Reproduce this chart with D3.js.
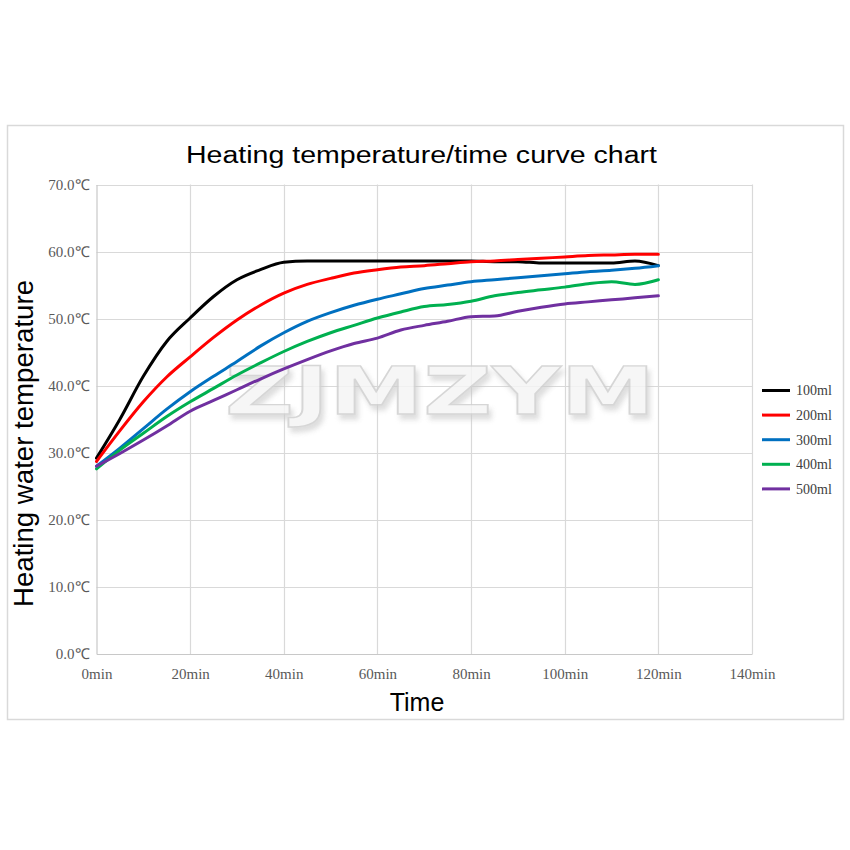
<!DOCTYPE html>
<html>
<head>
<meta charset="utf-8">
<script src="https://cdn.jsdelivr.net/npm/d3@7/dist/d3.min.js"></script>
<style>
  html, body { margin: 0; padding: 0; background: #ffffff; }
  svg { display: block; }
</style>
</head>
<body>
<svg id="chart" width="850" height="850"></svg>
<script>
// ---------- data ----------
const titleText = "Heating temperature/time curve chart";
const xTitle = "Time";
const yTitle = "Heating water temperature";
const watermarkText = "ZJMZYM";

const timesMin = [0,5,10,15,20,25,30,35,40,45,50,55,60,65,70,75,80,85,90,95,100,105,110,115,120];

const seriesNames = ["100ml","200ml","300ml","400ml","500ml"];
const seriesColors = ["#000000","#ff0000","#0070c0","#00b050","#7030a0"];

const temp100 = [29.2,35.0,41.4,46.6,50.1,53.3,55.8,57.3,58.4,58.6,58.6,58.6,58.6,58.6,58.6,58.6,58.6,58.5,58.5,58.3,58.3,58.3,58.3,58.6,57.9];
const temp200 = [28.7,33.3,37.6,41.3,44.3,47.2,49.8,52.0,53.8,55.1,56.0,56.8,57.3,57.7,57.9,58.2,58.5,58.6,58.8,59.0,59.2,59.4,59.5,59.6,59.6];
const temp300 = [28.0,30.7,33.6,36.5,39.1,41.4,43.6,45.9,47.9,49.6,50.9,52.0,52.9,53.7,54.5,55.0,55.5,55.8,56.1,56.4,56.7,57.0,57.2,57.5,57.9];
const temp400 = [27.6,30.4,32.9,35.4,37.6,39.6,41.6,43.4,45.1,46.6,47.9,49.0,50.1,51.0,51.8,52.1,52.6,53.4,53.9,54.3,54.7,55.2,55.5,55.1,55.8];
const temp500 = [28.0,29.9,31.9,34.0,36.2,37.8,39.4,41.0,42.5,43.9,45.2,46.3,47.1,48.3,49.0,49.6,50.3,50.4,51.1,51.7,52.2,52.5,52.8,53.1,53.4];

const xTicks = [0,20,40,60,80,100,120,140];
const yTicks = [0,10,20,30,40,50,60,70];

// ---------- layout ----------
const svg = d3.select("#chart");
const plotL = 96.5, plotR = 752, plotT = 184.5, plotB = 654;

const x = d3.scaleLinear().domain([0,140]).range([plotL, plotR]);
const y = d3.scaleLinear().domain([0,70]).range([plotB, plotT]);

// outer frame
svg.append("rect")
  .attr("x", 7.5).attr("y", 125.5).attr("width", 836).attr("height", 594)
  .attr("fill", "#ffffff").attr("stroke", "#d9d9d9").attr("stroke-width", 1.5);

// gridlines
const grid = svg.append("g");
grid.selectAll("line.h").data(yTicks.slice(1)).join("line")
  .attr("x1", plotL).attr("x2", plotR)
  .attr("y1", d => Math.round(y(d)) + 0.5).attr("y2", d => Math.round(y(d)) + 0.5)
  .attr("stroke", "#d9d9d9").attr("stroke-width", 1.2);
grid.selectAll("line.v").data(xTicks.slice(1)).join("line")
  .attr("y1", plotT).attr("y2", plotB)
  .attr("x1", d => Math.round(x(d)) + 0.5).attr("x2", d => Math.round(x(d)) + 0.5)
  .attr("stroke", "#d9d9d9").attr("stroke-width", 1.2);

// watermark (single text with a soft drop shadow)
const defs = svg.append("defs");
const f = defs.append("filter").attr("id", "wmshadow")
  .attr("x", "-10%").attr("y", "-30%").attr("width", "120%").attr("height", "170%");
f.append("feDropShadow").attr("dx", 3).attr("dy", 5).attr("stdDeviation", 2.5)
  .attr("flood-color", "#c8c8c8").attr("flood-opacity", 0.7);
svg.append("text")
  .attr("x", 225).attr("y", 414)
  .attr("textLength", 430).attr("lengthAdjust", "spacingAndGlyphs")
  .attr("font-family", "DejaVu Sans, sans-serif").attr("font-weight", "bold")
  .attr("font-size", 66).attr("fill", "#f5f5f5").attr("stroke", "#d0d0d0").attr("stroke-width", 1.3)
  .attr("opacity", 0.85).attr("filter", "url(#wmshadow)")
  .text(watermarkText);

// axes
const yAxis = d3.axisLeft(y).tickValues(yTicks).tickSize(0).tickPadding(7)
  .tickFormat(d => d.toFixed(1) + "℃");
const gy = svg.append("g").attr("transform", `translate(${plotL},0)`).call(yAxis);
gy.select(".domain").attr("stroke", "#c8c8c8").attr("stroke-width", 1.2);
gy.selectAll("text")
  .attr("font-family", "Liberation Serif, 'Times New Roman', serif")
  .attr("font-size", 15).attr("fill", "#595959");

const xAxis = d3.axisBottom(x).tickValues(xTicks).tickSize(0).tickPadding(14)
  .tickFormat(d => d + "min");
const gx = svg.append("g").attr("transform", `translate(0,${plotB})`).call(xAxis);
gx.select(".domain").attr("stroke", "#c8c8c8").attr("stroke-width", 1.2);
gx.selectAll("text")
  .attr("font-family", "Liberation Serif, 'Times New Roman', serif")
  .attr("font-size", 15).attr("fill", "#595959");

// lines
const allSeries = [temp100, temp200, temp300, temp400, temp500];
const line = d3.line()
  .x((d, i) => x(timesMin[i]))
  .y(d => y(d))
  .curve(d3.curveMonotoneX);
svg.append("g").selectAll("path").data(allSeries).join("path")
  .attr("d", d => line(d))
  .attr("fill", "none")
  .attr("stroke", (d, i) => seriesColors[i])
  .attr("stroke-width", 3)
  .attr("stroke-linejoin", "round")
  .attr("stroke-linecap", "round");

// legend
const legend = svg.append("g");
const leg = legend.selectAll("g").data(seriesNames).join("g")
  .attr("transform", (d, i) => `translate(762,${390.5 + i * 24.6})`);
leg.append("line").attr("x1", 0).attr("x2", 28).attr("y1", 0).attr("y2", 0)
  .attr("stroke", (d, i) => seriesColors[i]).attr("stroke-width", 3);
leg.append("text").attr("x", 34).attr("y", 0).attr("dy", "0.35em")
  .attr("font-family", "Liberation Serif, 'Times New Roman', serif")
  .attr("font-size", 14).attr("fill", "#404040")
  .text(d => d);

// titles
svg.append("text")
  .attr("x", 186).attr("y", 163)
  .attr("textLength", 471).attr("lengthAdjust", "spacingAndGlyphs")
  .attr("font-family", "Liberation Sans, Arial, sans-serif")
  .attr("font-size", 23).attr("fill", "#000000")
  .text(titleText);

svg.append("text")
  .attr("transform", "translate(33,607) rotate(-90)")
  .attr("textLength", 327).attr("lengthAdjust", "spacingAndGlyphs")
  .attr("font-family", "Liberation Sans, Arial, sans-serif")
  .attr("font-size", 27).attr("fill", "#000000")
  .text(yTitle);

svg.append("text")
  .attr("x", 417).attr("y", 711).attr("text-anchor", "middle")
  .attr("font-family", "Liberation Sans, Arial, sans-serif")
  .attr("font-size", 25).attr("fill", "#000000")
  .text(xTitle);
</script>
</body>
</html>
